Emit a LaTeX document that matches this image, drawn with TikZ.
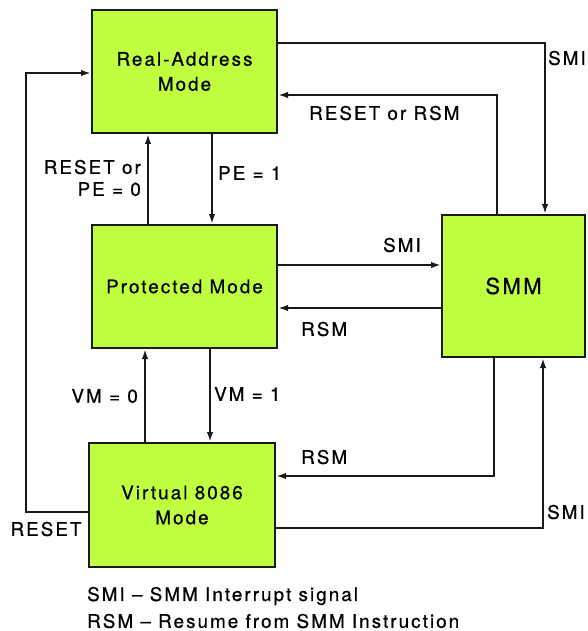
\documentclass[tikz,border=0pt]{standalone}
\usepackage{fontspec}
\setmainfont{TeX Gyre Heros}[LetterSpace=11, FakeBold=0.7]
\usetikzlibrary{arrows.meta}
\definecolor{modefill}{RGB}{192,255,64}
\definecolor{edge}{RGB}{25,25,25}
\begin{document}
\begin{tikzpicture}[x=1pt,y=-1pt,
  mode/.style={draw=edge, line width=2pt, fill=modefill, inner sep=0pt,
    align=center, font=\fontsize{18.8}{25}\selectfont},
  flow/.style={draw=edge, line width=2pt, -{Latex[length=10pt,width=6.5pt]}},
  lbl/.style={inner sep=0pt, font=\fontsize{18.8}{22}\selectfont}]
\useasboundingbox (0,0) rectangle (587,631);

% operating modes
\node[mode, minimum width=185pt, minimum height=123pt] (real) at (184.5,71.5) {Real-Address\\Mode};
\node[mode, minimum width=185pt, minimum height=123pt] (prot) at (184.5,286.5) {Protected Mode};
\node[mode, minimum width=143pt, minimum height=142pt, font=\fontsize{22}{25}\selectfont] (smm) at (513.5,286) {SMM};
\node[mode, minimum width=186pt, minimum height=124pt] (virt) at (182,505) {Virtual 8086\\Mode};

% real-address <-> protected
\draw[flow] ([xshift=27.5pt]real.south) -- ([xshift=27.5pt]real.south |- prot.north);
\draw[flow] ([xshift=-36.5pt]prot.north) -- ([xshift=-36.5pt]prot.north |- real.south);
% protected <-> virtual 8086
\draw[flow] ([xshift=25.5pt]prot.south) -- ([xshift=25.5pt]prot.south |- virt.north);
\draw[flow] ([xshift=-37pt]virt.north) -- ([xshift=-37pt]virt.north |- prot.south);

% transitions into and out of SMM
\draw[flow] ([yshift=28.5pt]real.east) -| ([xshift=31.5pt]smm.north);
\draw[flow] ([xshift=-16.5pt]smm.north) |- ([yshift=-23.5pt]real.east);
\draw[flow] ([yshift=21.5pt]prot.east) -- ([yshift=21.5pt]prot.east -| smm.west);
\draw[flow] ([yshift=-21.5pt]prot.east -| smm.west) -- ([yshift=-21.5pt]prot.east);
\draw[flow] ([xshift=-19.5pt]smm.south) |- ([yshift=29pt]virt.east);
\draw[flow] ([yshift=-23pt]virt.east) -| ([xshift=29.5pt]smm.south);

% reset from virtual 8086 back to real-address
\coordinate (resetcorner) at (26,512);
\draw[flow] ([yshift=-7pt]virt.west) -- (resetcorner) |- ([yshift=-1.5pt]real.west);

% transition labels
\node[lbl, anchor=west] (l1) at (548,58) {SMI};
\node[lbl, anchor=west] (l2) at (309,113) {RESET or RSM};
\node[lbl, anchor=west] (l3) at (218,173) {PE = 1};
\node[lbl, anchor=east, align=right] (l4) at (141,178) {RESET or\\PE = 0};
\node[lbl] (l5) at (402,245) {SMI};
\node[lbl, anchor=west] (l6) at (301,329) {RSM};
\node[lbl, anchor=east] (l7) at (138,396) {VM = 0};
\node[lbl, anchor=west] (l8) at (214,394) {VM = 1};
\node[lbl, anchor=west] (l9) at (301,457) {RSM};
\node[lbl, anchor=west] (l10) at (547,512) {SMI};
\node[lbl] (l11) at (46,529) {RESET};

% legend
\node[lbl, anchor=west] (k1) at (87,596) {SMI -- SMM Interrupt signal};
\node[lbl, anchor=west] (k2) at (87,621) {RSM -- Resume from SMM Instruction};
\end{tikzpicture}
\end{document}
